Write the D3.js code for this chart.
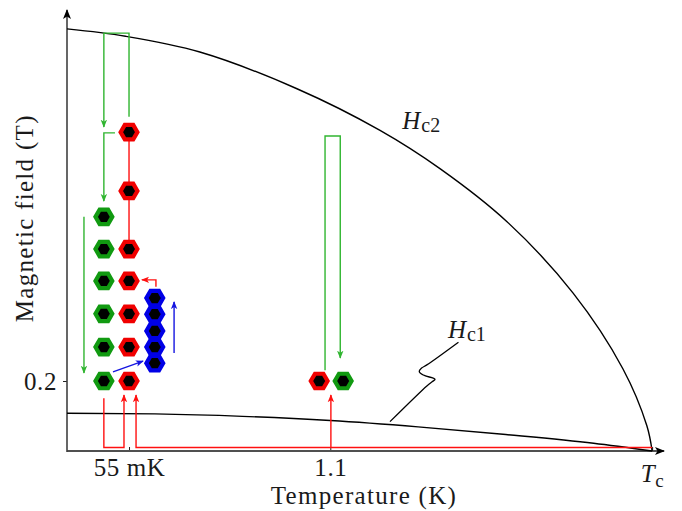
<!DOCTYPE html>
<html>
<head>
<meta charset="utf-8">
<script src="https://cdn.jsdelivr.net/npm/d3@7"></script>
<style>
body { margin: 0; background: #fff; }
text { font-family: "Liberation Serif", "Times New Roman", serif; fill: #1a1a1a; }
</style>
</head>
<body>
<svg id="chart" width="682" height="511"></svg>
<script>
// schematic phase diagram, x is T/Tc (not to scale), y is field in T
var xTickVals = [0.106, 0.45, 1.0];
var xTickLabels = ["55 mK", "1.1", "T"];
var yTickVals = [0.2];

// critical field lines
var hc2T = [0, 0.1, 0.227, 0.393, 0.535, 0.638, 0.752, 0.865, 0.95, 0.991, 1.0];
var hc2H = [1.206, 1.185, 1.14, 1.035, 0.916, 0.806, 0.655, 0.451, 0.235, 0.072, 0];
var hc1T = [0, 0.15, 0.3, 0.45, 0.6, 0.75, 0.9, 1.0];
var hc1H = [0.108, 0.106, 0.099, 0.087, 0.069, 0.047, 0.022, 0];

// measurement points (hexagons)
var t55Green = 0.063, t55Red = 0.106, t55Blue = 0.150;
var green55 = [0.2, 0.297, 0.392, 0.486, 0.577, 0.669];
var red55 = [0.2, 0.297, 0.392, 0.486, 0.577, 0.743, 0.911];
var blue55 = [0.251, 0.297, 0.343, 0.391, 0.437];
var t11Red = 0.431, t11Green = 0.472;
var red11 = [0.2];
var green11 = [0.2];

// field / temperature sweeps as [T, H] pairs, all end in an arrow
var greenSweeps = [
	[[0.106, 0.955], [0.106, 1.194], [0.063, 1.194], [0.063, 0.926]],
	[[0.082, 0.909], [0.063, 0.909], [0.063, 0.714]],
	[[0.029, 0.669], [0.029, 0.223]],
	[[0.441, 0.231], [0.441, 0.9], [0.467, 0.9], [0.467, 0.266]]
];
var redSweeps = [
	[[0.063, 0.151], [0.063, 0.01], [0.0974, 0.01], [0.0974, 0.16]],
	[[1.0, 0.01], [0.118, 0.01], [0.118, 0.16]],
	[[0.451, 0.01], [0.451, 0.16]],
	[[0.152, 0.469], [0.152, 0.489], [0.128, 0.489]]
];
var redLink = [[0.106, 0.911], [0.106, 0.577]];
var blueSweeps = [
	[[0.0786, 0.226], [0.13, 0.257]],
	[[0.183, 0.28], [0.183, 0.426]]
];
var hc1Pointer = [[0.552, 0.084], [0.615, 0.186], [0.624, 0.198], [0.629, 0.205], [0.609, 0.217],
	[0.602, 0.227], [0.606, 0.237], [0.615, 0.246], [0.669, 0.311]];

var svg = d3.select("#chart");
var x = d3.scaleLinear().domain([0, 1.022]).range([67, 665]);
var y = d3.scaleLinear().domain([0, 1.26]).range([451, 10]);

var colors = { green: "#119a11", red: "#f00000", blue: "#0000e6" };
var lineColors = { green: "#30b530", red: "#ff1010", blue: "#1515e0", black: "#000" };

var defs = svg.append("defs");
Object.keys(lineColors).forEach(function(k) {
	defs.append("marker")
		.attr("id", "arr-" + k)
		.attr("viewBox", "0 -5 10 10")
		.attr("refX", 9)
		.attr("refY", 0)
		.attr("markerUnits", "userSpaceOnUse")
		.attr("markerWidth", k === "black" ? 10 : 8)
		.attr("markerHeight", k === "black" ? 10 : 8)
		.attr("orient", "auto")
		.append("path")
			.attr("d", "M0,-4 L10,0 L0,4 L2.5,0 Z")
			.attr("fill", lineColors[k]);
});

// axes
var xAxis = svg.append("g")
	.attr("transform", "translate(0," + y(0) + ")")
	.call(d3.axisBottom(x).tickValues(xTickVals)
		.tickFormat(function(d, i) { return xTickLabels[i]; })
		.tickSizeInner(-4).tickSizeOuter(0).tickPadding(7));
xAxis.select(".domain").remove();
xAxis.selectAll("line").attr("stroke", "#222");
xAxis.selectAll("text")
	.attr("font-family", "Liberation Serif")
	.attr("font-size", 25)
	.attr("letter-spacing", 0.6)
	.attr("fill", "#1a1a1a");
xAxis.selectAll(".tick").filter(function(d, i) { return i === 2; }).select("text")
	.attr("font-style", "italic")
	.attr("dy", "0.95em")
	.append("tspan")
		.attr("font-style", "normal")
		.attr("font-size", 19)
		.attr("dy", 5)
		.text("c");

var yAxis = svg.append("g")
	.attr("transform", "translate(" + x(0) + ",0)")
	.call(d3.axisLeft(y).tickValues(yTickVals)
		.tickFormat(d3.format(".1f")).tickSizeInner(4).tickSizeOuter(0).tickPadding(6));
yAxis.select(".domain").remove();
yAxis.selectAll("line").attr("stroke", "#222");
yAxis.selectAll("text")
	.attr("font-family", "Liberation Serif")
	.attr("font-size", 25)
	.attr("letter-spacing", 0.6)
	.attr("fill", "#1a1a1a");

svg.append("line")
	.attr("x1", x(0)).attr("x2", x(1.022) - 1)
	.attr("y1", y(0)).attr("y2", y(0))
	.attr("stroke", "#505050").attr("stroke-width", 2.2)
	.attr("marker-end", "url(#arr-black)");
svg.append("line")
	.attr("x1", x(0)).attr("x2", x(0))
	.attr("y1", y(0) + 1).attr("y2", y(1.26))
	.attr("stroke", "#404040").attr("stroke-width", 1.6)
	.attr("marker-end", "url(#arr-black)");

// critical fields
var curve = d3.line()
	.x(function(d) { return x(d[0]); })
	.y(function(d) { return y(d[1]); });

svg.append("path")
	.datum(d3.zip(hc2T, hc2H))
	.attr("d", curve.curve(d3.curveCatmullRom.alpha(0.5)))
	.attr("fill", "none").attr("stroke", "#000").attr("stroke-width", 1.4);
svg.append("path")
	.datum(d3.zip(hc1T, hc1H))
	.attr("d", curve.curve(d3.curveMonotoneX))
	.attr("fill", "none").attr("stroke", "#000").attr("stroke-width", 1.4);
svg.append("path")
	.datum(hc1Pointer)
	.attr("d", curve.curve(d3.curveCatmullRom.alpha(0.5)))
	.attr("fill", "none").attr("stroke", "#000").attr("stroke-width", 1.3);

curve.curve(d3.curveLinear);

function drawSweeps(list, col, arrow) {
	svg.append("g").selectAll("path")
		.data(list)
		.enter().append("path")
			.attr("d", curve)
			.attr("fill", "none")
			.attr("stroke", lineColors[col])
			.attr("stroke-width", 1.4)
			.attr("marker-end", arrow ? "url(#arr-" + col + ")" : null);
}
drawSweeps([redLink], "red", false);
drawSweeps(greenSweeps, "green", true);
drawSweeps(redSweeps, "red", true);
drawSweeps(blueSweeps, "blue", true);

// hexagon markers
var hexR = 8.4;
var hex = d3.range(6).map(function(k) {
	var a = k * Math.PI / 3;
	return [hexR * Math.cos(a), hexR * Math.sin(a)];
});
var hexPath = "M" + hex.join("L") + "Z";

function drawHexes(t, fields, col) {
	svg.append("g").selectAll("path")
		.data(fields)
		.enter().append("path")
			.attr("d", hexPath)
			.attr("transform", function(d) { return "translate(" + x(t) + "," + y(d) + ")"; })
			.attr("fill", "#000")
			.attr("stroke", colors[col])
			.attr("stroke-width", 4.2)
			.attr("stroke-linejoin", "miter");
}
drawHexes(t55Green, green55, "green");
drawHexes(t55Red, red55, "red");
drawHexes(t55Blue, blue55, "blue");
drawHexes(t11Red, red11, "red");
drawHexes(t11Green, green11, "green");

// labels
function critLabel(t, h, sub) {
	var lab = svg.append("text")
		.attr("x", x(t)).attr("y", y(h))
		.attr("font-size", 25)
		.attr("font-style", "italic")
		.text("H");
	lab.append("tspan")
		.attr("font-style", "normal")
		.attr("font-size", 20)
		.attr("dx", 1)
		.attr("dy", 3)
		.text(sub);
}
critLabel(0.573, 0.92, "c2");
critLabel(0.651, 0.323, "c1");

svg.append("text")
	.attr("x", 364).attr("y", 504)
	.attr("text-anchor", "middle")
	.attr("font-size", 25)
	.attr("letter-spacing", 1.3)
	.text("Temperature (K)");

svg.append("text")
	.attr("transform", "translate(33," + y(0.665) + ") rotate(-90)")
	.attr("text-anchor", "middle")
	.attr("font-size", 25)
	.attr("letter-spacing", 1.3)
	.text("Magnetic field (T)");
</script>
</body>
</html>
